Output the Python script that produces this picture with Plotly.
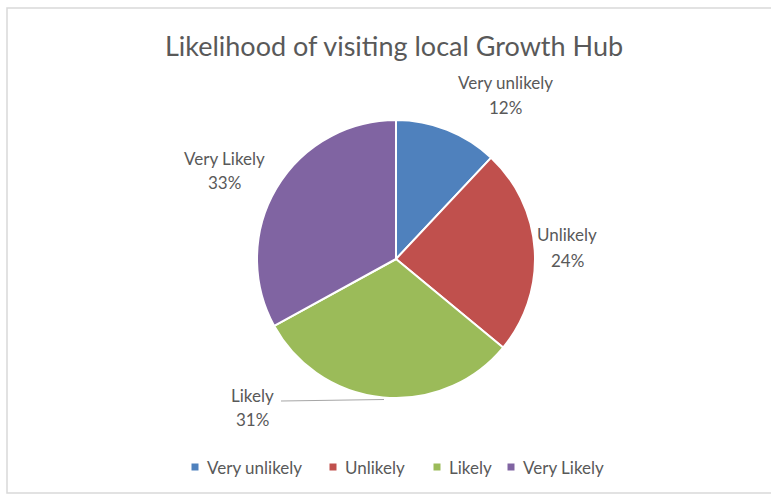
import plotly.graph_objects as go

# Survey responses: likelihood of visiting the local Growth Hub
categories = ["Very unlikely", "Unlikely", "Likely", "Very Likely"]
shares = [12, 24, 31, 33]
colors = ["#4F81BD", "#C0504D", "#9BBB59", "#8064A2"]

W, H = 771, 495
FONT = "Lato, 'Open Sans', sans-serif"
GREY = "#595959"

# pie geometry in pixels
cx, cy, r = 396, 259, 139


def px(x):
    return x / W


def py(y):
    return 1 - y / H


fig = go.Figure(
    go.Pie(
        labels=categories,
        values=shares,
        sort=False,
        direction="clockwise",
        rotation=0,
        marker=dict(colors=colors, line=dict(color="white", width=2)),
        textinfo="none",
        hoverinfo="label+percent",
        showlegend=False,
        domain=dict(x=[px(cx - r), px(cx + r)], y=[py(cy + r), py(cy - r)]),
    )
)

# data-label positions (name line, percent line) in pixels
label_pos = [(505, 83, 107), (567, 235, 260), (252, 395, 419), (224, 158, 183)]
annotations = []
for name, val, (x, y1, y2) in zip(categories, shares, label_pos):
    annotations.append(dict(x=px(x), y=py(y1), xref="paper", yref="paper",
                            text=name, showarrow=False, xanchor="center", yanchor="middle",
                            font=dict(family=FONT, size=17, color=GREY)))
    annotations.append(dict(x=px(x), y=py(y2), xref="paper", yref="paper",
                            text=f"{val}%", showarrow=False, xanchor="center", yanchor="middle",
                            font=dict(family=FONT, size=17, color=GREY)))

shapes = [
    # chart-area border
    dict(type="rect", xref="paper", yref="paper", x0=px(7), x1=1.02, y0=py(493), y1=py(8),
         line=dict(color="#D9D9D9", width=1.5), fillcolor="rgba(0,0,0,0)"),
    # leader line for the "Likely" label
    dict(type="line", xref="paper", yref="paper", x0=px(281), x1=px(384), y0=py(401), y1=py(399.5),
         line=dict(color="#A6A6A6", width=1)),
]

# legend row: small colour squares followed by category names
legend_x = [195, 333, 437, 511]
legend_y = 467
for name, col, lx in zip(categories, colors, legend_x):
    shapes.append(dict(type="rect", xref="paper", yref="paper",
                       x0=px(lx - 3.5), x1=px(lx + 3.5), y0=py(legend_y + 3.5), y1=py(legend_y - 3.5),
                       fillcolor=col, line=dict(width=0)))
    annotations.append(dict(x=px(lx + 10), y=py(legend_y), xref="paper", yref="paper",
                            text=name, showarrow=False, xanchor="left", yanchor="middle",
                            font=dict(family=FONT, size=17, color=GREY)))

fig.update_layout(
    width=W,
    height=H,
    margin=dict(l=0, r=0, t=0, b=0),
    paper_bgcolor="white",
    plot_bgcolor="white",
    title=dict(text="Likelihood of visiting local Growth Hub", x=px(394), xanchor="center",
               y=py(47), yanchor="middle", font=dict(family=FONT, size=27, color=GREY)),
    showlegend=False,
    annotations=annotations,
    shapes=shapes,
)

fig.write_html("out.html")
